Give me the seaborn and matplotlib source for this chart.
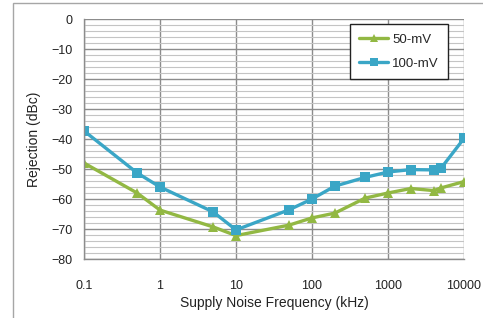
import numpy as np
import pandas as pd
import matplotlib
matplotlib.use("Agg")
import matplotlib.pyplot as plt
import seaborn as sns
from matplotlib.patches import Rectangle
from matplotlib.ticker import FixedLocator, MultipleLocator, FixedFormatter

freq = [0.1, 0.5, 1, 5, 10, 50, 100, 200, 500, 1000, 2000, 4000, 5000, 10000]
rej_50mv = [-48, -58, -63.7, -69.3, -72.2, -68.7, -66.3, -64.7, -59.7, -58, -56.5, -57.2, -56.3, -54.2]
rej_100mv = [-37.3, -51.3, -56, -64.3, -70.3, -63.6, -60, -55.7, -52.8, -51, -50.2, -50.3, -49.7, -39.8]
series_names = ["50-mV", "100-mV"]
x_ticks = [0.1, 1, 10, 100, 1000, 10000]
x_tick_labels = ["0.1", "1", "10", "100", "1000", "10000"]

df = pd.DataFrame({
    "freq": freq * 2,
    "rej": rej_50mv + rej_100mv,
    "series": [series_names[0]] * len(freq) + [series_names[1]] * len(freq),
})

sns.set_theme(style="white")
plt.rcParams["font.family"] = ["Liberation Sans", "DejaVu Sans"]

fig = plt.figure(figsize=(4.83, 3.18), dpi=100)
ax = fig.add_axes([84/483, 1-259/318, (464-84)/483, (259-19)/318])

# outer frame (partly cropped)
fig.patches.append(Rectangle((13/483, -0.1), 1.2, 1 - 3/318 + 0.1, transform=fig.transFigure,
                             fill=False, edgecolor="#a6a6a6", linewidth=1.0))

palette = {"50-mV": "#92b843", "100-mV": "#3aa6c6"}
markers = {"50-mV": "^", "100-mV": "s"}
sns.lineplot(data=df, x="freq", y="rej", hue="series", style="series",
             palette=palette, markers=markers, dashes=False, linewidth=2.4,
             markersize=7.5, markeredgewidth=0, ax=ax)

ax.set_xscale("log")
ax.set_xlim(0.1, 10000)
ax.set_ylim(-80, 0)
ax.xaxis.set_major_locator(FixedLocator(x_ticks))
ax.xaxis.set_major_formatter(FixedFormatter(x_tick_labels))
ax.xaxis.set_minor_locator(FixedLocator([]))
ax.yaxis.set_major_locator(MultipleLocator(10))
ax.yaxis.set_minor_locator(MultipleLocator(2))

ax.grid(True, which="major", axis="both", color="#8c8c8c", linewidth=1.0)
ax.grid(True, which="minor", axis="y", color="#c4c4c4", linewidth=0.8)
ax.set_axisbelow(True)

for s in ["top", "right"]:
    ax.spines[s].set_visible(False)
for s in ["left", "bottom"]:
    ax.spines[s].set_color("#8c8c8c")
    ax.spines[s].set_linewidth(1.0)

ax.tick_params(axis="both", which="major", labelsize=9, colors="#8c8c8c",
               labelcolor="#222222", length=4, width=1.0, direction="out", pad=12)
ax.tick_params(axis="y", pad=4)
ax.tick_params(axis="x", length=0, pad=15)
ax.tick_params(axis="both", which="minor", length=0)

ax.set_xlabel("Supply Noise Frequency (kHz)", fontsize=10, color="#222222", labelpad=3)
ax.set_ylabel("Rejection (dBc)", fontsize=10, color="#222222", labelpad=8)

handles, labels = ax.get_legend_handles_labels()
leg = ax.legend(handles, labels, loc="upper right", bbox_to_anchor=(0.965, 0.99),
                frameon=True, fancybox=False, edgecolor="#222222", fontsize=9.5,
                handlelength=2.2, borderpad=0.7, labelspacing=0.9, handletextpad=0.3,
                borderaxespad=0.2, markerscale=0.8)
leg.get_frame().set_linewidth(1.0)
leg.get_frame().set_facecolor("white")
leg.get_frame().set_alpha(1)

fig.savefig("out.png", dpi=100)
